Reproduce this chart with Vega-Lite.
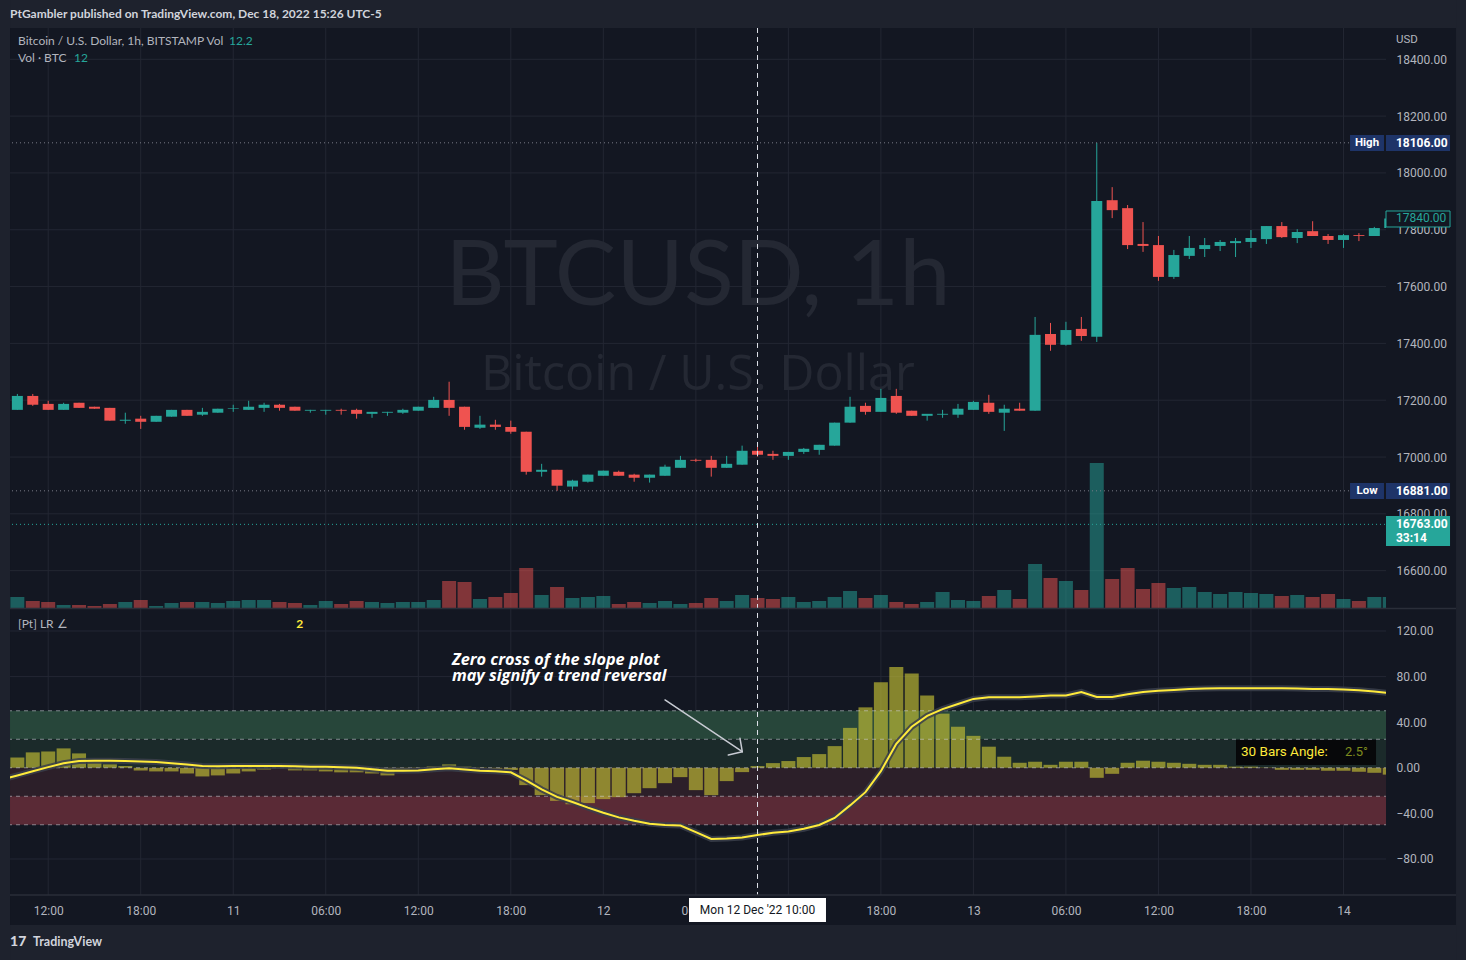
{
"$schema": "https://vega.github.io/schema/vega-lite/v6.json",
"width": 1386, "height": 895,
"autosize": {"type": "none"},
"padding": {"left": 0, "top": 0, "right": 80, "bottom": 65},
"background": "#131722",
"config": {"view": {"stroke": null}, "scale": {"continuousPadding": 0}, "axis": {"domain": false, "ticks": false, "grid": false, "labelFont": "Roboto", "labelFontSize": 12, "labelColor": "#b2b5be"}},
"datasets": {"bars": [
{"t":"2022-12-10T09:00","lr":-10.3},
{"t":"2022-12-10T10:00","o":17166,"h":17222,"l":17166,"c":17215,"d":"u","v":110,"s":9,"lr":-6.7},
{"t":"2022-12-10T11:00","o":17215,"h":17222,"l":17180,"c":17184,"d":"d","v":70,"s":13.5,"lr":-3},
{"t":"2022-12-10T12:00","o":17187,"h":17198,"l":17166,"c":17166,"d":"d","v":60,"s":14.3,"lr":0.6},
{"t":"2022-12-10T13:00","o":17166,"h":17191,"l":17166,"c":17187,"d":"u","v":30,"s":17,"lr":4},
{"t":"2022-12-10T14:00","o":17191,"h":17191,"l":17173,"c":17173,"d":"d","v":30,"s":12.6,"lr":6},
{"t":"2022-12-10T15:00","o":17177,"h":17177,"l":17170,"c":17170,"d":"d","v":20,"s":5.5,"lr":6.2},
{"t":"2022-12-10T16:00","o":17173,"h":17173,"l":17128,"c":17128,"d":"d","v":40,"s":3,"lr":6.2},
{"t":"2022-12-10T17:00","o":17128,"h":17156,"l":17117,"c":17131,"d":"u","v":60,"s":1.5,"lr":6},
{"t":"2022-12-10T18:00","o":17135,"h":17145,"l":17099,"c":17124,"d":"d","v":80,"s":-2.4,"lr":5.6},
{"t":"2022-12-10T19:00","o":17124,"h":17145,"l":17124,"c":17145,"d":"u","v":20,"s":-3.2,"lr":5},
{"t":"2022-12-10T20:00","o":17142,"h":17166,"l":17142,"c":17166,"d":"u","v":50,"s":-3.2,"lr":4},
{"t":"2022-12-10T21:00","o":17166,"h":17166,"l":17145,"c":17145,"d":"d","v":60,"s":-5,"lr":2.8},
{"t":"2022-12-10T22:00","o":17149,"h":17173,"l":17145,"c":17159,"d":"u","v":60,"s":-7.6,"lr":1.6},
{"t":"2022-12-10T23:00","o":17156,"h":17170,"l":17156,"c":17170,"d":"u","v":50,"s":-6.7,"lr":1.4},
{"t":"2022-12-11T00:00","o":17169,"h":17184,"l":17159,"c":17171,"d":"u","v":70,"s":-5,"lr":1.5},
{"t":"2022-12-11T01:00","o":17166,"h":17198,"l":17166,"c":17177,"d":"u","v":80,"s":-3.2,"lr":1.6},
{"t":"2022-12-11T02:00","o":17173,"h":17191,"l":17159,"c":17184,"d":"u","v":80,"s":-1.5,"lr":1.6},
{"t":"2022-12-11T03:00","o":17184,"h":17187,"l":17163,"c":17173,"d":"d","v":60,"s":0.3,"lr":1.5},
{"t":"2022-12-11T04:00","o":17177,"h":17177,"l":17163,"c":17163,"d":"d","v":50,"s":-2.3,"lr":1.3},
{"t":"2022-12-11T05:00","o":17163,"h":17166,"l":17156,"c":17166,"d":"u","v":30,"s":-2.3,"lr":1},
{"t":"2022-12-11T06:00","o":17163,"h":17166,"l":17149,"c":17166,"d":"u","v":70,"s":-3.2,"lr":0.8},
{"t":"2022-12-11T07:00","o":17166,"h":17170,"l":17149,"c":17163,"d":"d","v":40,"s":-4,"lr":0.4},
{"t":"2022-12-11T08:00","o":17166,"h":17170,"l":17135,"c":17152,"d":"d","v":70,"s":-4,"lr":0},
{"t":"2022-12-11T09:00","o":17152,"h":17159,"l":17138,"c":17159,"d":"u","v":60,"s":-5,"lr":-1.2},
{"t":"2022-12-11T10:00","o":17156,"h":17159,"l":17145,"c":17159,"d":"u","v":50,"s":-6.7,"lr":-2.6},
{"t":"2022-12-11T11:00","o":17156,"h":17170,"l":17152,"c":17166,"d":"u","v":60,"s":-1.5,"lr":-2.5},
{"t":"2022-12-11T12:00","o":17163,"h":17177,"l":17163,"c":17177,"d":"u","v":60,"s":0.3,"lr":-2.3},
{"t":"2022-12-11T13:00","o":17173,"h":17212,"l":17173,"c":17201,"d":"u","v":80,"s":1.2,"lr":-1.2},
{"t":"2022-12-11T14:00","o":17201,"h":17265,"l":17145,"c":17173,"d":"d","v":270,"s":3,"lr":-0.4},
{"t":"2022-12-11T15:00","o":17177,"h":17177,"l":17096,"c":17106,"d":"d","v":260,"s":1,"lr":-1.5},
{"t":"2022-12-11T16:00","o":17103,"h":17145,"l":17099,"c":17114,"d":"u","v":90,"s":0.3,"lr":-2.6},
{"t":"2022-12-11T17:00","o":17114,"h":17131,"l":17096,"c":17106,"d":"d","v":110,"s":-1,"lr":-3},
{"t":"2022-12-11T18:00","o":17106,"h":17128,"l":17082,"c":17089,"d":"d","v":150,"s":-2,"lr":-4},
{"t":"2022-12-11T19:00","o":17089,"h":17089,"l":16938,"c":16948,"d":"d","v":400,"s":-15.2,"lr":-11},
{"t":"2022-12-11T20:00","o":16948,"h":16976,"l":16931,"c":16955,"d":"u","v":130,"s":-24,"lr":-19},
{"t":"2022-12-11T21:00","o":16955,"h":16955,"l":16881,"c":16899,"d":"d","v":210,"s":-29,"lr":-25.5},
{"t":"2022-12-11T22:00","o":16896,"h":16920,"l":16885,"c":16917,"d":"u","v":100,"s":-32,"lr":-30},
{"t":"2022-12-11T23:00","o":16913,"h":16938,"l":16910,"c":16938,"d":"u","v":110,"s":-31,"lr":-35},
{"t":"2022-12-12T00:00","o":16934,"h":16952,"l":16934,"c":16952,"d":"u","v":120,"s":-27.5,"lr":-39.5},
{"t":"2022-12-12T01:00","o":16948,"h":16952,"l":16934,"c":16934,"d":"d","v":40,"s":-25.8,"lr":-43.5},
{"t":"2022-12-12T02:00","o":16938,"h":16941,"l":16913,"c":16927,"d":"d","v":60,"s":-22.3,"lr":-46.5},
{"t":"2022-12-12T03:00","o":16927,"h":16938,"l":16910,"c":16938,"d":"u","v":50,"s":-17.9,"lr":-49},
{"t":"2022-12-12T04:00","o":16934,"h":16973,"l":16934,"c":16966,"d":"u","v":70,"s":-13.5,"lr":-50.3},
{"t":"2022-12-12T05:00","o":16962,"h":17004,"l":16962,"c":16990,"d":"u","v":40,"s":-8.2,"lr":-50.6},
{"t":"2022-12-12T06:00","o":16990,"h":16994,"l":16983,"c":16987,"d":"d","v":50,"s":-19.6,"lr":-56.5},
{"t":"2022-12-12T07:00","o":16990,"h":17004,"l":16931,"c":16962,"d":"d","v":100,"s":-24,"lr":-62.4},
{"t":"2022-12-12T08:00","o":16962,"h":17004,"l":16962,"c":16976,"d":"u","v":70,"s":-11.7,"lr":-62},
{"t":"2022-12-12T09:00","o":16973,"h":17040,"l":16973,"c":17022,"d":"u","v":130,"s":-3.8,"lr":-61.2},
{"t":"2022-12-12T10:00","o":17022,"h":17043,"l":17001,"c":17008,"d":"d","v":100,"s":1.5,"lr":-59},
{"t":"2022-12-12T11:00","o":17011,"h":17022,"l":16990,"c":17004,"d":"d","v":90,"s":4.1,"lr":-57},
{"t":"2022-12-12T12:00","o":17004,"h":17018,"l":16990,"c":17018,"d":"u","v":110,"s":5.9,"lr":-55.8},
{"t":"2022-12-12T13:00","o":17018,"h":17032,"l":17011,"c":17029,"d":"u","v":60,"s":9.4,"lr":-53.5},
{"t":"2022-12-12T14:00","o":17025,"h":17043,"l":17008,"c":17043,"d":"u","v":70,"s":12,"lr":-50.2},
{"t":"2022-12-12T15:00","o":17040,"h":17121,"l":17040,"c":17121,"d":"u","v":110,"s":19,"lr":-44},
{"t":"2022-12-12T16:00","o":17121,"h":17212,"l":17121,"c":17177,"d":"u","v":170,"s":35,"lr":-33},
{"t":"2022-12-12T17:00","o":17180,"h":17191,"l":17149,"c":17159,"d":"d","v":100,"s":53,"lr":-21.4},
{"t":"2022-12-12T18:00","o":17159,"h":17240,"l":17159,"c":17208,"d":"u","v":130,"s":75,"lr":-3},
{"t":"2022-12-12T19:00","o":17215,"h":17240,"l":17152,"c":17156,"d":"d","v":60,"s":88.5,"lr":21},
{"t":"2022-12-12T20:00","o":17163,"h":17163,"l":17145,"c":17145,"d":"d","v":40,"s":82.6,"lr":36},
{"t":"2022-12-12T21:00","o":17145,"h":17149,"l":17128,"c":17152,"d":"u","v":60,"s":63.3,"lr":45.5},
{"t":"2022-12-12T22:00","o":17149,"h":17166,"l":17138,"c":17152,"d":"u","v":160,"s":47.5,"lr":51.5},
{"t":"2022-12-12T23:00","o":17149,"h":17187,"l":17138,"c":17170,"d":"u","v":80,"s":36,"lr":56},
{"t":"2022-12-13T00:00","o":17166,"h":17198,"l":17166,"c":17194,"d":"u","v":70,"s":28,"lr":60.4},
{"t":"2022-12-13T01:00","o":17191,"h":17219,"l":17152,"c":17159,"d":"d","v":120,"s":18.5,"lr":61.8},
{"t":"2022-12-13T02:00","o":17156,"h":17184,"l":17092,"c":17170,"d":"u","v":180,"s":9.7,"lr":61.8},
{"t":"2022-12-13T03:00","o":17170,"h":17191,"l":17163,"c":17163,"d":"d","v":90,"s":4.4,"lr":61.8},
{"t":"2022-12-13T04:00","o":17163,"h":17493,"l":17163,"c":17430,"d":"u","v":440,"s":5.3,"lr":62.5},
{"t":"2022-12-13T05:00","o":17433,"h":17472,"l":17374,"c":17395,"d":"d","v":300,"s":2.6,"lr":63.3},
{"t":"2022-12-13T06:00","o":17395,"h":17476,"l":17392,"c":17447,"d":"u","v":270,"s":5.3,"lr":63.5},
{"t":"2022-12-13T07:00","o":17451,"h":17493,"l":17409,"c":17426,"d":"d","v":180,"s":5.3,"lr":66.5},
{"t":"2022-12-13T08:00","o":17423,"h":18106,"l":17405,"c":17901,"d":"u","v":1450,"s":-8.8,"lr":62.1},
{"t":"2022-12-13T09:00","o":17904,"h":17950,"l":17841,"c":17869,"d":"d","v":290,"s":-5.3,"lr":62},
{"t":"2022-12-13T10:00","o":17876,"h":17887,"l":17732,"c":17746,"d":"d","v":400,"s":4.4,"lr":64.5},
{"t":"2022-12-13T11:00","o":17750,"h":17827,"l":17722,"c":17743,"d":"d","v":190,"s":6.2,"lr":66.5},
{"t":"2022-12-13T12:00","o":17746,"h":17778,"l":17620,"c":17634,"d":"d","v":250,"s":5.3,"lr":67.5},
{"t":"2022-12-13T13:00","o":17634,"h":17729,"l":17627,"c":17711,"d":"u","v":200,"s":4.4,"lr":68.3},
{"t":"2022-12-13T14:00","o":17708,"h":17778,"l":17697,"c":17736,"d":"u","v":210,"s":3.5,"lr":69},
{"t":"2022-12-13T15:00","o":17732,"h":17771,"l":17704,"c":17746,"d":"u","v":160,"s":2.6,"lr":69.5},
{"t":"2022-12-13T16:00","o":17743,"h":17764,"l":17725,"c":17757,"d":"u","v":140,"s":2.6,"lr":69.8},
{"t":"2022-12-13T17:00","o":17753,"h":17771,"l":17704,"c":17760,"d":"u","v":160,"s":1,"lr":69.8},
{"t":"2022-12-13T18:00","o":17757,"h":17799,"l":17736,"c":17771,"d":"u","v":150,"s":1,"lr":69.8},
{"t":"2022-12-13T19:00","o":17767,"h":17813,"l":17750,"c":17813,"d":"u","v":140,"s":0.3,"lr":69.8},
{"t":"2022-12-13T20:00","o":17813,"h":17827,"l":17771,"c":17774,"d":"d","v":120,"s":-1.8,"lr":69.7},
{"t":"2022-12-13T21:00","o":17771,"h":17802,"l":17753,"c":17792,"d":"u","v":130,"s":-1.8,"lr":69.5},
{"t":"2022-12-13T22:00","o":17795,"h":17830,"l":17778,"c":17778,"d":"d","v":110,"s":-1.8,"lr":69.2},
{"t":"2022-12-13T23:00","o":17778,"h":17785,"l":17750,"c":17764,"d":"d","v":140,"s":-2.6,"lr":69},
{"t":"2022-12-14T00:00","o":17764,"h":17785,"l":17736,"c":17781,"d":"u","v":90,"s":-2.6,"lr":68.6},
{"t":"2022-12-14T01:00","o":17781,"h":17788,"l":17760,"c":17778,"d":"d","v":70,"s":-3.5,"lr":68},
{"t":"2022-12-14T02:00","o":17778,"h":17810,"l":17778,"c":17806,"d":"u","v":110,"s":-4.4,"lr":67},
{"t":"2022-12-14T03:00","o":17806,"h":17845,"l":17800,"c":17840,"d":"u","v":110,"s":-6,"lr":65.5}
]},
"data": {"name": "bars"},
"resolve": {"scale": {"y": "independent", "color": "independent"}},
"layer": [
{"data": {"values": [{"p":16600},{"p":16800},{"p":17000},{"p":17200},{"p":17400},{"p":17600},{"p":17800},{"p":18000},{"p":18200},{"p":18400}]},
 "mark": {"type": "rule", "color": "#232733", "strokeWidth": 1},
 "encoding": {
  "x": {"datum": {"year":2022,"month":12,"date":10,"hours":8,"minutes":52,"seconds":27}, "type": "temporal"},
  "x2": {"datum": {"year":2022,"month":12,"date":14,"hours":2,"minutes":45,"seconds":25}},
  "y": {"field": "p", "type": "quantitative", "title": null, "scale": {"domain": [15458.3, 18608.7], "zero": false, "nice": false},
        "axis": {"orient": "right", "values": [16600,16800,17000,17200,17400,17600,17800,18000,18200,18400], "format": ".2f", "labelPadding": 10, "labelAlign": "left", "labelBaseline": "middle", "labelOverlap": false, "labelBound": false, "labelFlush": false}}
 }},
{"data": {"values": [{"t":"2022-12-10T12:00"},{"t":"2022-12-10T18:00"},{"t":"2022-12-11T00:00"},{"t":"2022-12-11T06:00"},{"t":"2022-12-11T12:00"},{"t":"2022-12-11T18:00"},{"t":"2022-12-12T00:00"},{"t":"2022-12-12T06:00"},{"t":"2022-12-12T12:00"},{"t":"2022-12-12T18:00"},{"t":"2022-12-13T00:00"},{"t":"2022-12-13T06:00"},{"t":"2022-12-13T12:00"},{"t":"2022-12-13T18:00"},{"t":"2022-12-14T00:00"}]},
 "mark": {"type": "rule", "color": "#232733", "strokeWidth": 1},
 "encoding": {
  "x": {"field": "t", "type": "temporal", "title": null},
  "y": {"datum": 18510.2, "type": "quantitative", "scale": {"domain": [15458.3, 18608.7], "zero": false, "nice": false}, "axis": null},
  "y2": {"datum": 15458.3}
 }},
{"data": {"values": [{"g":120},{"g":80},{"g":40},{"g":-40},{"g":-80}]},
 "mark": {"type": "rule", "color": "#232733", "strokeWidth": 1},
 "encoding": {
  "x": {"datum": {"year":2022,"month":12,"date":10,"hours":8,"minutes":52,"seconds":27}, "type": "temporal"},
  "x2": {"datum": {"year":2022,"month":12,"date":14,"hours":2,"minutes":45,"seconds":25}},
  "y": {"field": "g", "type": "quantitative", "title": null, "scale": {"domain": [-111.6, 673.5], "zero": false, "nice": false},
        "axis": {"orient": "right", "values": [-80,-40,0,40,80,120], "format": ".2f", "labelPadding": 10, "labelAlign": "left", "labelBaseline": "middle", "labelOverlap": false, "labelBound": false, "labelFlush": false}}
 }},
{"data": {"values": [{}]},
 "mark": {"type": "text", "font": "Lato", "fontSize": 92, "color": "#242833", "align": "center", "baseline": "alphabetic"},
 "encoding": {
  "x": {"datum": {"year":2022,"month":12,"date":12,"hours":6,"minutes":8}, "type": "temporal"},
  "y": {"datum": 17535, "type": "quantitative", "scale": {"domain": [15458.3, 18608.7], "zero": false, "nice": false}, "axis": null},
  "text": {"value": "BTCUSD, 1h"}
 }},
{"data": {"values": [{}]},
 "mark": {"type": "text", "font": "Open Sans", "fontSize": 48.5, "color": "#242833", "align": "center", "baseline": "alphabetic"},
 "encoding": {
  "x": {"datum": {"year":2022,"month":12,"date":12,"hours":6,"minutes":8}, "type": "temporal"},
  "y": {"datum": 17236, "type": "quantitative", "scale": {"domain": [15458.3, 18608.7], "zero": false, "nice": false}, "axis": null},
  "text": {"value": "Bitcoin / U.S. Dollar"}
 }},
{"data": {"values": [{"lo":25,"hi":50,"k":"g2"},{"lo":0,"hi":25,"k":"g1"},{"lo":-25,"hi":0,"k":"r1"},{"lo":-50,"hi":-25,"k":"r2"}]},
 "mark": {"type": "rect"},
 "encoding": {
  "x": {"datum": {"year":2022,"month":12,"date":10,"hours":8,"minutes":52,"seconds":27}, "type": "temporal"},
  "x2": {"datum": {"year":2022,"month":12,"date":14,"hours":2,"minutes":45,"seconds":25}},
  "y": {"field": "lo", "type": "quantitative", "scale": {"domain": [-111.6, 673.5], "zero": false, "nice": false}, "axis": null},
  "y2": {"field": "hi"},
  "color": {"field": "k", "type": "nominal", "scale": {"domain": ["g2","g1","r1","r2"], "range": ["#27463a","#1b2a2a","#2c1f29","#5a2a36"]}, "legend": null}
 }},
{"mark": {"type": "bar", "size": 14, "opacity": 0.5, "clip": true},
 "encoding": {
  "x": {"field": "t", "type": "temporal", "title": null},
  "y": {"field": "v", "type": "quantitative", "scale": {"domain": [-2870, 6080], "zero": false, "nice": false}, "axis": null},
  "y2": {"datum": 0},
  "color": {"field": "d", "type": "nominal", "scale": {"domain": ["u","d"], "range": ["#26a69a","#ef5350"]}, "legend": null}
 }},
{"mark": {"type": "rule", "strokeWidth": 1, "clip": true},
 "encoding": {
  "x": {"field": "t", "type": "temporal", "title": null,
        "scale": {"domain": [{"year":2022,"month":12,"date":10,"hours":8,"minutes":52,"seconds":27}, {"year":2022,"month":12,"date":14,"hours":2,"minutes":45,"seconds":25}], "padding": 0},
        "axis": {"values": [{"year":2022,"month":12,"date":10,"hours":12},{"year":2022,"month":12,"date":10,"hours":18},{"year":2022,"month":12,"date":11,"hours":0},{"year":2022,"month":12,"date":11,"hours":6},{"year":2022,"month":12,"date":11,"hours":12},{"year":2022,"month":12,"date":11,"hours":18},{"year":2022,"month":12,"date":12,"hours":0},{"year":2022,"month":12,"date":12,"hours":6},{"year":2022,"month":12,"date":12,"hours":12},{"year":2022,"month":12,"date":12,"hours":18},{"year":2022,"month":12,"date":13,"hours":0},{"year":2022,"month":12,"date":13,"hours":6},{"year":2022,"month":12,"date":13,"hours":12},{"year":2022,"month":12,"date":13,"hours":18},{"year":2022,"month":12,"date":14,"hours":0}],
                 "labelExpr": "hours(datum.value) == 0 ? timeFormat(datum.value, '%-d') : timeFormat(datum.value, '%H:%M')",
                 "labelPadding": 10, "labelOverlap": false, "labelFlush": false, "labelBound": false}},
  "y": {"field": "h", "type": "quantitative", "scale": {"domain": [15458.3, 18608.7], "zero": false, "nice": false}, "axis": null},
  "y2": {"field": "l"},
  "color": {"field": "d", "type": "nominal", "scale": {"domain": ["u","d"], "range": ["#26a69a","#ef5350"]}, "legend": null}
 }},
{"mark": {"type": "bar", "size": 11, "clip": true},
 "encoding": {
  "x": {"field": "t", "type": "temporal", "title": null},
  "y": {"field": "o", "type": "quantitative", "scale": {"domain": [15458.3, 18608.7], "zero": false, "nice": false}, "axis": null},
  "y2": {"field": "c"},
  "color": {"field": "d", "type": "nominal", "scale": {"domain": ["u","d"], "range": ["#26a69a","#ef5350"]}, "legend": null}
 }},
{"mark": {"type": "bar", "size": 14, "color": "#c5c034", "opacity": 0.65, "clip": true},
 "encoding": {
  "x": {"field": "t", "type": "temporal", "title": null},
  "y": {"field": "s", "type": "quantitative", "scale": {"domain": [-111.6, 673.5], "zero": false, "nice": false}, "axis": null},
  "y2": {"datum": 0}
 }},
{"data": {"values": [{"y":50},{"y":25},{"y":0},{"y":-25},{"y":-50}]},
 "mark": {"type": "rule", "color": "#d1d4dc", "opacity": 0.55, "strokeDash": [4, 4], "strokeWidth": 1},
 "encoding": {
  "x": {"datum": {"year":2022,"month":12,"date":10,"hours":8,"minutes":52,"seconds":27}, "type": "temporal"},
  "x2": {"datum": {"year":2022,"month":12,"date":14,"hours":2,"minutes":45,"seconds":25}},
  "y": {"field": "y", "type": "quantitative", "scale": {"domain": [-111.6, 673.5], "zero": false, "nice": false}, "axis": null}
 }},
{"mark": {"type": "line", "color": "#3a3e4a", "strokeWidth": 6, "opacity": 0.85, "clip": true},
 "encoding": {
  "x": {"field": "t", "type": "temporal", "title": null},
  "y": {"field": "lr", "type": "quantitative", "scale": {"domain": [-111.6, 673.5], "zero": false, "nice": false}, "axis": null}
 }},
{"mark": {"type": "line", "color": "#ffeb3b", "strokeWidth": 2, "clip": true},
 "encoding": {
  "x": {"field": "t", "type": "temporal", "title": null},
  "y": {"field": "lr", "type": "quantitative", "scale": {"domain": [-111.6, 673.5], "zero": false, "nice": false}, "axis": null}
 }},
{"data": {"values": [{"p":18106},{"p":16881}]},
 "mark": {"type": "rule", "color": "#787b86", "strokeDash": [1, 3], "strokeWidth": 1},
 "encoding": {
  "x": {"datum": {"year":2022,"month":12,"date":10,"hours":8,"minutes":52,"seconds":27}, "type": "temporal"},
  "x2": {"datum": {"year":2022,"month":12,"date":14,"hours":0,"minutes":25,"seconds":26}},
  "y": {"field": "p", "type": "quantitative", "scale": {"domain": [15458.3, 18608.7], "zero": false, "nice": false}, "axis": null}
 }},
{"data": {"values": [{"p":16763}]},
 "mark": {"type": "rule", "color": "#26a69a", "strokeDash": [1, 3], "strokeWidth": 1},
 "encoding": {
  "x": {"datum": {"year":2022,"month":12,"date":10,"hours":8,"minutes":52,"seconds":27}, "type": "temporal"},
  "x2": {"datum": {"year":2022,"month":12,"date":14,"hours":2,"minutes":45,"seconds":25}},
  "y": {"field": "p", "type": "quantitative", "scale": {"domain": [15458.3, 18608.7], "zero": false, "nice": false}, "axis": null}
 }},
{"data": {"values": [{"t":"2022-12-12T10:00"}]},
 "mark": {"type": "rule", "color": "#e0e3eb", "strokeDash": [5, 4], "strokeWidth": 1},
 "encoding": {
  "x": {"field": "t", "type": "temporal", "title": null},
  "y": {"datum": 18510.2, "type": "quantitative", "scale": {"domain": [15458.3, 18608.7], "zero": false, "nice": false}, "axis": null},
  "y2": {"datum": 15458.3}
 }},
{"data": {"values": [{"t":"2022-12-11T14:11","v":90.2,"txt":"Zero cross of the slope plot"},{"t":"2022-12-11T14:11","v":76.1,"txt":"may signify a trend reversal"}]},
 "mark": {"type": "text", "font": "Open Sans", "fontSize": 16.3, "fontWeight": "bold", "fontStyle": "italic", "color": "#ffffff", "align": "left", "baseline": "alphabetic"},
 "encoding": {
  "x": {"field": "t", "type": "temporal", "title": null},
  "y": {"field": "v", "type": "quantitative", "scale": {"domain": [-111.6, 673.5], "zero": false, "nice": false}, "axis": null},
  "text": {"field": "txt"}
 }},
{"data": {"values": [{"t":"2022-12-12T04:00","v":59.5,"t2":"2022-12-12T09:00:40","v2":14.1},{"t":"2022-12-12T08:51:50","v":25.9,"t2":"2022-12-12T09:00:40","v2":14.1},{"t":"2022-12-12T08:06:22","v":11.2,"t2":"2022-12-12T09:00:40","v2":14.1}]},
 "mark": {"type": "rule", "color": "#c8cbd3", "strokeWidth": 1.5, "strokeCap": "round"},
 "encoding": {
  "x": {"field": "t", "type": "temporal", "title": null},
  "x2": {"field": "t2"},
  "y": {"field": "v", "type": "quantitative", "scale": {"domain": [-111.6, 673.5], "zero": false, "nice": false}, "axis": null},
  "y2": {"field": "v2"}
 }},
{"data": {"values": [{}]},
 "mark": {"type": "rect", "color": "#07080a"},
 "encoding": {
  "x": {"datum": {"year":2022,"month":12,"date":13,"hours":17,"minutes":1,"seconds":48}, "type": "temporal"},
  "x2": {"datum": {"year":2022,"month":12,"date":14,"hours":2,"minutes":6,"seconds":36}},
  "y": {"datum": 24.4, "type": "quantitative", "scale": {"domain": [-111.6, 673.5], "zero": false, "nice": false}, "axis": null},
  "y2": {"datum": 2.5}
 }},
{"data": {"values": [{}]},
 "mark": {"type": "text", "font": "Roboto", "fontSize": 13.5, "color": "#ffeb3b", "align": "left", "baseline": "middle"},
 "encoding": {
  "x": {"datum": {"year":2022,"month":12,"date":13,"hours":17,"minutes":21}, "type": "temporal"},
  "y": {"datum": 13.9, "type": "quantitative", "scale": {"domain": [-111.6, 673.5], "zero": false, "nice": false}, "axis": null},
  "text": {"value": "30 Bars Angle:"}
 }},
{"data": {"values": [{}]},
 "mark": {"type": "text", "font": "Roboto", "fontSize": 13, "color": "#7f8c1e", "align": "left", "baseline": "middle"},
 "encoding": {
  "x": {"datum": {"year":2022,"month":12,"date":14,"hours":0,"minutes":6}, "type": "temporal"},
  "y": {"datum": 13.9, "type": "quantitative", "scale": {"domain": [-111.6, 673.5], "zero": false, "nice": false}, "axis": null},
  "text": {"value": "2.5°"}
 }},
{"data": {"values": [{}]},
 "mark": {"type": "text", "font": "Lato", "fontSize": 12, "color": "#b2b5be", "align": "left", "baseline": "middle"},
 "encoding": {
  "x": {"datum": {"year":2022,"month":12,"date":10,"hours":10,"minutes":2,"seconds":28}, "type": "temporal"},
  "y": {"datum": 126.1, "type": "quantitative", "scale": {"domain": [-111.6, 673.5], "zero": false, "nice": false}, "axis": null},
  "text": {"value": "[Pt] LR ∠"}
 }},
{"data": {"values": [{"t":"2022-12-11T04:05","txt":"2"}]},
 "mark": {"type": "text", "font": "Lato", "fontSize": 12, "fontWeight": "bold", "color": "#ffeb3b", "align": "left", "baseline": "middle"},
 "encoding": {
  "x": {"field": "t", "type": "temporal", "title": null},
  "y": {"datum": 126.1, "type": "quantitative", "scale": {"domain": [-111.6, 673.5], "zero": false, "nice": false}, "axis": null},
  "text": {"field": "txt"}
 }},
{"data": {"values": [{}]},
 "mark": {"type": "rect", "color": "#1e222d"},
 "encoding": {
  "x": {"datum": {"year":2022,"month":12,"date":10,"hours":8,"minutes":52,"seconds":27}, "type": "temporal"},
  "x2": {"datum": {"year":2022,"month":12,"date":14,"hours":7,"minutes":56,"seconds":46}},
  "y": {"datum": 18608.7, "type": "quantitative", "scale": {"domain": [15458.3, 18608.7], "zero": false, "nice": false}, "axis": null},
  "y2": {"datum": 18510.2}
 }},
{"data": {"values": [{}]},
 "mark": {"type": "rect", "color": "#1e222d"},
 "encoding": {
  "x": {"datum": {"year":2022,"month":12,"date":10,"hours":8,"minutes":52,"seconds":27}, "type": "temporal"},
  "x2": {"datum": {"year":2022,"month":12,"date":14,"hours":7,"minutes":56,"seconds":46}},
  "y": {"datum": 15352.7, "type": "quantitative", "scale": {"domain": [15458.3, 18608.7], "zero": false, "nice": false}, "axis": null},
  "y2": {"datum": 15229.5}
 }},
{"data": {"values": [{}]},
 "mark": {"type": "rect", "color": "#1e222d"},
 "encoding": {
  "x": {"datum": {"year":2022,"month":12,"date":10,"hours":8,"minutes":52,"seconds":27}, "type": "temporal"},
  "x2": {"datum": {"year":2022,"month":12,"date":10,"hours":9,"minutes":31,"seconds":23}},
  "y": {"datum": 18608.7, "type": "quantitative", "scale": {"domain": [15458.3, 18608.7], "zero": false, "nice": false}, "axis": null},
  "y2": {"datum": 15229.5}
 }},
{"data": {"values": [{}]},
 "mark": {"type": "rect", "color": "#1e222d"},
 "encoding": {
  "x": {"datum": {"year":2022,"month":12,"date":14,"hours":7,"minutes":17,"seconds":49}, "type": "temporal"},
  "x2": {"datum": {"year":2022,"month":12,"date":14,"hours":7,"minutes":56,"seconds":46}},
  "y": {"datum": 18608.7, "type": "quantitative", "scale": {"domain": [15458.3, 18608.7], "zero": false, "nice": false}, "axis": null},
  "y2": {"datum": 15229.5}
 }},
{"data": {"values": [{"p":16466.8},{"p":15458.3}]},
 "mark": {"type": "rule", "color": "#2a2e39", "strokeWidth": 1.5},
 "encoding": {
  "x": {"datum": {"year":2022,"month":12,"date":10,"hours":9,"minutes":31,"seconds":23}, "type": "temporal"},
  "x2": {"datum": {"year":2022,"month":12,"date":14,"hours":7,"minutes":17,"seconds":49}},
  "y": {"field": "p", "type": "quantitative", "scale": {"domain": [15458.3, 18608.7], "zero": false, "nice": false}, "axis": null}
 }},
{"data": {"values": [{}]},
 "mark": {"type": "text", "font": "Lato", "fontSize": 12, "fontWeight": "bold", "color": "#d1d4dc", "align": "left", "baseline": "middle"},
 "encoding": {
  "x": {"datum": {"year":2022,"month":12,"date":10,"hours":9,"minutes":31,"seconds":23}, "type": "temporal"},
  "y": {"datum": 18559.5, "type": "quantitative", "scale": {"domain": [15458.3, 18608.7], "zero": false, "nice": false}, "axis": null},
  "text": {"value": "PtGambler published on TradingView.com, Dec 18, 2022 15:26 UTC-5"}
 }},
{"data": {"values": [{"p":18464.4,"txt":"Bitcoin / U.S. Dollar, 1h, BITSTAMP  Vol"},{"p":18404.6,"txt":"Vol · BTC"}]},
 "mark": {"type": "text", "font": "Lato", "fontSize": 12, "color": "#b2b5be", "align": "left", "baseline": "middle"},
 "encoding": {
  "x": {"datum": {"year":2022,"month":12,"date":10,"hours":10,"minutes":2,"seconds":28}, "type": "temporal"},
  "y": {"field": "p", "type": "quantitative", "scale": {"domain": [15458.3, 18608.7], "zero": false, "nice": false}, "axis": null},
  "text": {"field": "txt"}
 }},
{"data": {"values": [{"t":"2022-12-10T23:43:30","p":18464.4,"txt":"12.2"},{"t":"2022-12-10T13:40:22","p":18404.6,"txt":"12"}]},
 "mark": {"type": "text", "font": "Lato", "fontSize": 12, "color": "#26a69a", "align": "left", "baseline": "middle"},
 "encoding": {
  "x": {"field": "t", "type": "temporal", "title": null},
  "y": {"field": "p", "type": "quantitative", "scale": {"domain": [15458.3, 18608.7], "zero": false, "nice": false}, "axis": null},
  "text": {"field": "txt"}
 }},
{"data": {"values": [{}]},
 "mark": {"type": "text", "font": "Roboto", "fontSize": 11.5, "color": "#b2b5be", "align": "left", "baseline": "middle"},
 "encoding": {
  "x": {"datum": {"year":2022,"month":12,"date":14,"hours":3,"minutes":24,"seconds":11}, "type": "temporal"},
  "y": {"datum": 18467.9, "type": "quantitative", "scale": {"domain": [15458.3, 18608.7], "zero": false, "nice": false}, "axis": null},
  "text": {"value": "USD"}
 }},
{"data": {"values": [{"p0":18133.5,"p1":18077.2},{"p0":16908.5,"p1":16852.2}]},
 "mark": {"type": "rect", "color": "#1e3468"},
 "encoding": {
  "x": {"datum": {"year":2022,"month":12,"date":14,"hours":0,"minutes":25,"seconds":26}, "type": "temporal"},
  "x2": {"datum": {"year":2022,"month":12,"date":14,"hours":2,"minutes":37,"seconds":37}},
  "y": {"field": "p0", "type": "quantitative", "scale": {"domain": [15458.3, 18608.7], "zero": false, "nice": false}, "axis": null},
  "y2": {"field": "p1"}
 }},
{"data": {"values": [{"p0":18133.5,"p1":18077.2},{"p0":16908.5,"p1":16852.2}]},
 "mark": {"type": "rect", "color": "#1e3468"},
 "encoding": {
  "x": {"datum": {"year":2022,"month":12,"date":14,"hours":2,"minutes":45,"seconds":25}, "type": "temporal"},
  "x2": {"datum": {"year":2022,"month":12,"date":14,"hours":6,"minutes":54,"seconds":33}},
  "y": {"field": "p0", "type": "quantitative", "scale": {"domain": [15458.3, 18608.7], "zero": false, "nice": false}, "axis": null},
  "y2": {"field": "p1"}
 }},
{"data": {"values": [{"p":18106,"txt":"High"},{"p":16881,"txt":"Low"}]},
 "mark": {"type": "text", "font": "Roboto", "fontSize": 11.5, "fontWeight": "bold", "color": "#ffffff", "align": "center", "baseline": "middle"},
 "encoding": {
  "x": {"datum": {"year":2022,"month":12,"date":14,"hours":1,"minutes":31,"seconds":32}, "type": "temporal"},
  "y": {"field": "p", "type": "quantitative", "scale": {"domain": [15458.3, 18608.7], "zero": false, "nice": false}, "axis": null},
  "text": {"field": "txt"}
 }},
{"data": {"values": [{"p":18106,"txt":"18106.00"},{"p":16881,"txt":"16881.00"}]},
 "mark": {"type": "text", "font": "Roboto", "fontSize": 12, "fontWeight": "bold", "color": "#ffffff", "align": "left", "baseline": "middle"},
 "encoding": {
  "x": {"datum": {"year":2022,"month":12,"date":14,"hours":3,"minutes":24,"seconds":11}, "type": "temporal"},
  "y": {"field": "p", "type": "quantitative", "scale": {"domain": [15458.3, 18608.7], "zero": false, "nice": false}, "axis": null},
  "text": {"field": "txt"}
 }},
{"data": {"values": [{}]},
 "mark": {"type": "rect", "fill": "#131722", "stroke": "#26a69a", "strokeWidth": 1},
 "encoding": {
  "x": {"datum": {"year":2022,"month":12,"date":14,"hours":2,"minutes":45,"seconds":25}, "type": "temporal"},
  "x2": {"datum": {"year":2022,"month":12,"date":14,"hours":6,"minutes":54,"seconds":33}},
  "y": {"datum": 17866, "type": "quantitative", "scale": {"domain": [15458.3, 18608.7], "zero": false, "nice": false}, "axis": null},
  "y2": {"datum": 17809.7}
 }},
{"data": {"values": [{"p":17840,"txt":"17840.00"}]},
 "mark": {"type": "text", "font": "Roboto", "fontSize": 12, "color": "#26a69a", "align": "left", "baseline": "middle"},
 "encoding": {
  "x": {"datum": {"year":2022,"month":12,"date":14,"hours":3,"minutes":24,"seconds":11}, "type": "temporal"},
  "y": {"field": "p", "type": "quantitative", "scale": {"domain": [15458.3, 18608.7], "zero": false, "nice": false}, "axis": null},
  "text": {"field": "txt"}
 }},
{"data": {"values": [{}]},
 "mark": {"type": "rect", "color": "#26a69a"},
 "encoding": {
  "x": {"datum": {"year":2022,"month":12,"date":14,"hours":2,"minutes":45,"seconds":25}, "type": "temporal"},
  "x2": {"datum": {"year":2022,"month":12,"date":14,"hours":6,"minutes":54,"seconds":33}},
  "y": {"datum": 16792.3, "type": "quantitative", "scale": {"domain": [15458.3, 18608.7], "zero": false, "nice": false}, "axis": null},
  "y2": {"datum": 16686.7}
 }},
{"data": {"values": [{"p":16764,"txt":"16763.00"},{"p":16715,"txt":"33:14"}]},
 "mark": {"type": "text", "font": "Roboto", "fontSize": 12, "fontWeight": "bold", "color": "#ffffff", "align": "left", "baseline": "middle"},
 "encoding": {
  "x": {"datum": {"year":2022,"month":12,"date":14,"hours":3,"minutes":24,"seconds":11}, "type": "temporal"},
  "y": {"field": "p", "type": "quantitative", "scale": {"domain": [15458.3, 18608.7], "zero": false, "nice": false}, "axis": null},
  "text": {"field": "txt"}
 }},
{"data": {"values": [{}]},
 "mark": {"type": "rect", "color": "#ffffff"},
 "encoding": {
  "x": {"datum": {"year":2022,"month":12,"date":12,"hours":5,"minutes":33,"seconds":22}, "type": "temporal"},
  "x2": {"datum": {"year":2022,"month":12,"date":12,"hours":14,"minutes":26,"seconds":24}},
  "y": {"datum": 15447.8, "type": "quantitative", "scale": {"domain": [15458.3, 18608.7], "zero": false, "nice": false}, "axis": null},
  "y2": {"datum": 15363.4}
 }},
{"data": {"values": [{"t":"2022-12-12T10:00","p":15405.6,"txt":"Mon 12 Dec '22    10:00"}]},
 "mark": {"type": "text", "font": "Roboto", "fontSize": 12, "color": "#131722", "align": "center", "baseline": "middle"},
 "encoding": {
  "x": {"field": "t", "type": "temporal", "title": null},
  "y": {"field": "p", "type": "quantitative", "scale": {"domain": [15458.3, 18608.7], "zero": false, "nice": false}, "axis": null},
  "text": {"field": "txt"}
 }},
{"data": {"values": [{}]},
 "mark": {"type": "text", "font": "Lato", "fontSize": 14, "fontWeight": 900, "color": "#d1d4dc", "align": "left", "baseline": "middle"},
 "encoding": {
  "x": {"datum": {"year":2022,"month":12,"date":10,"hours":9,"minutes":31,"seconds":23}, "type": "temporal"},
  "y": {"datum": 15292.9, "type": "quantitative", "scale": {"domain": [15458.3, 18608.7], "zero": false, "nice": false}, "axis": null},
  "text": {"value": "17"}
 }},
{"data": {"values": [{}]},
 "mark": {"type": "text", "font": "Lato", "fontSize": 12.5, "fontWeight": "bold", "color": "#d1d4dc", "align": "left", "baseline": "middle"},
 "encoding": {
  "x": {"datum": {"year":2022,"month":12,"date":10,"hours":11,"minutes":0,"seconds":50}, "type": "temporal"},
  "y": {"datum": 15292.9, "type": "quantitative", "scale": {"domain": [15458.3, 18608.7], "zero": false, "nice": false}, "axis": null},
  "text": {"value": "TradingView"}
 }}
]
}
